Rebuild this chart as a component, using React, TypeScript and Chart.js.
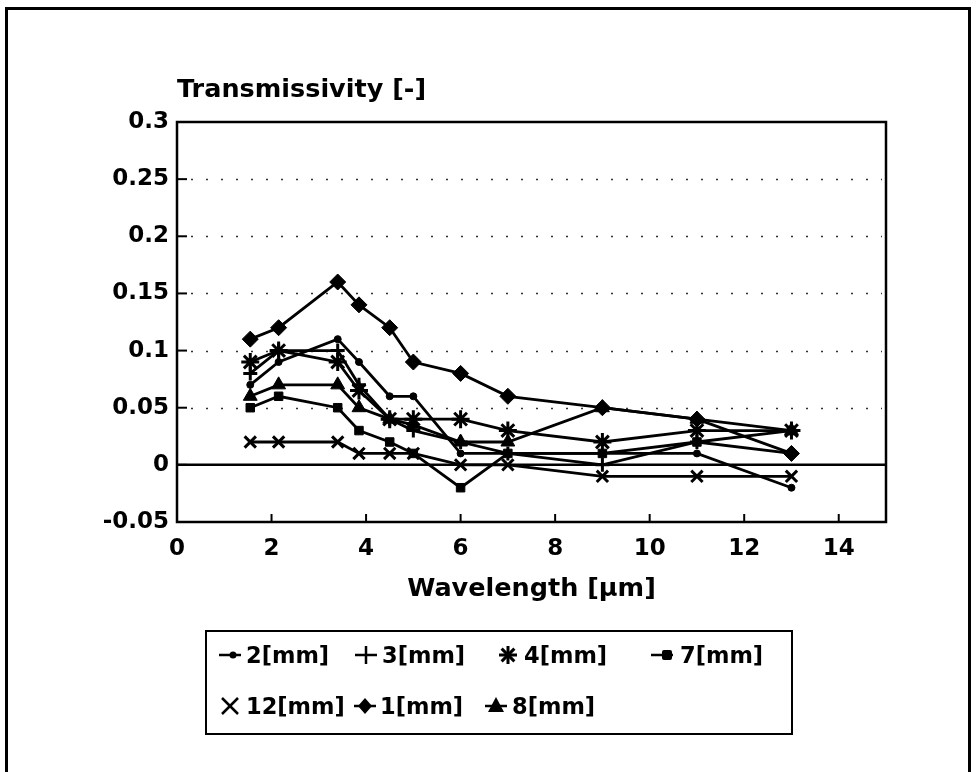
import React, { useEffect, useRef } from "react";
import { Chart, registerables } from "chart.js";

Chart.register(...registerables);

// ---------- data ----------
const wavelengths = [1.55, 2.15, 3.4, 3.85, 4.5, 5, 6, 7, 9, 11, 13];

const seriesNames = ["2[mm]", "3[mm]", "4[mm]", "7[mm]", "12[mm]", "1[mm]", "8[mm]"];
const t2mm = [0.07, 0.09, 0.11, 0.09, 0.06, 0.06, 0.01, 0.01, 0.01, 0.01, -0.02];
const t3mm = [0.08, 0.1, 0.1, 0.07, 0.04, 0.03, 0.02, 0.01, 0.0, 0.02, 0.01];
const t4mm = [0.09, 0.1, 0.09, 0.065, 0.04, 0.04, 0.04, 0.03, 0.02, 0.03, 0.03];
const t7mm = [0.05, 0.06, 0.05, 0.03, 0.02, 0.01, -0.02, 0.01, 0.01, 0.02, 0.03];
const t12mm = [0.02, 0.02, 0.02, 0.01, 0.01, 0.01, 0.0, 0.0, -0.01, -0.01, -0.01];
const t1mm = [0.11, 0.12, 0.16, 0.14, 0.12, 0.09, 0.08, 0.06, 0.05, 0.04, 0.01];
const t8mm = [0.06, 0.07, 0.07, 0.05, 0.04, 0.035, 0.02, 0.02, 0.05, 0.04, 0.03];
const seriesValues = [t2mm, t3mm, t4mm, t7mm, t12mm, t1mm, t8mm];

const yTickValues = [-0.05, 0, 0.05, 0.1, 0.15, 0.2, 0.25, 0.3];
const yTickLabels = ["-0.05", "0", "0.05", "0.1", "0.15", "0.2", "0.25", "0.3"];
const xTickValues = [0, 2, 4, 6, 8, 10, 12, 14];
const xTickLabels = ["0", "2", "4", "6", "8", "10", "12", "14"];

const yTitle = "Transmissivity [-]";
const xTitle = "Wavelength [µm]";

// ---------- styles ----------
const FONT = "'DejaVu Sans', 'Liberation Sans', Arial, sans-serif";
const pointStyles = ["circle", "cross", "star", "rect", "crossRot", "rectRot", "triangle"];
const pointRadii = [3.5, 7, 9, 6, 8, 8, 8];

// legend layout (page coords)
const legendBox = { left: 205, top: 630, width: 588, height: 105 };
const legendPos = [
  { cx: 230, tx: 246, cy: 655 },
  { cx: 366, tx: 382, cy: 655 },
  { cx: 508, tx: 524, cy: 655 },
  { cx: 662, tx: 680, cy: 655 },
  { cx: 230, tx: 246, cy: 706 },
  { cx: 365, tx: 380, cy: 706 },
  { cx: 496, tx: 512, cy: 706 },
];

function LegendMarker({ style }: { style: string }) {
  const c = 12, m = 12;
  const els: any[] = [];
  const sw = 2.5;
  if (style !== "cross" && style !== "star" && style !== "crossRot") {
    els.push(<line key="l" x1={1} y1={m} x2={23} y2={m} stroke="#000" strokeWidth={sw} />);
  }
  if (style === "circle") els.push(<circle key="p" cx={c + 3} cy={m} r={3.5} fill="#000" />);
  if (style === "cross") {
    els.push(<line key="a" x1={1} y1={m} x2={23} y2={m} stroke="#000" strokeWidth={sw} />);
    els.push(<line key="b" x1={c} y1={m - 9} x2={c} y2={m + 9} stroke="#000" strokeWidth={sw} />);
  }
  if (style === "star") {
    for (let i = 0; i < 4; i++) {
      const a = (i * Math.PI) / 4;
      const dx = Math.cos(a) * 9, dy = Math.sin(a) * 9;
      els.push(<line key={"s" + i} x1={c - dx} y1={m - dy} x2={c + dx} y2={m + dy} stroke="#000" strokeWidth={3} />);
    }
  }
  if (style === "rect") els.push(<rect key="p" x={c} y={m - 5} width={10} height={10} rx={2} fill="#000" />);
  if (style === "crossRot") {
    els.push(<line key="a" x1={c - 8} y1={m - 8} x2={c + 8} y2={m + 8} stroke="#000" strokeWidth={sw} />);
    els.push(<line key="b" x1={c - 8} y1={m + 8} x2={c + 8} y2={m - 8} stroke="#000" strokeWidth={sw} />);
  }
  if (style === "rectRot") els.push(<polygon key="p" points={`${c},${m - 8} ${c + 7},${m} ${c},${m + 8} ${c - 7},${m}`} fill="#000" />);
  if (style === "triangle") els.push(<polygon key="p" points={`${c},${m - 9} ${c + 8},${m + 6} ${c - 8},${m + 6}`} fill="#000" />);
  return (
    <svg width={24} height={24} style={{ position: "absolute", left: -c, top: -m, overflow: "visible" }}>
      {els}
    </svg>
  );
}

const framePlugin = {
  id: "frameAndGrid",
  beforeDatasetsDraw(chart: any) {
    const { ctx, chartArea: a, scales } = chart;
    const x = scales.x, y = scales.y;
    ctx.save();
    // dotted horizontal grid
    ctx.strokeStyle = "#333";
    ctx.lineWidth = 1.6;
    ctx.setLineDash([2, 13]);
    yTickValues.forEach((v) => {
      if (v > 0 && v < 0.3) {
        const py = Math.round(y.getPixelForValue(v)) + 0.5;
        ctx.beginPath();
        ctx.moveTo(a.left + 14, py);
        ctx.lineTo(a.right - 4, py);
        ctx.stroke();
      }
    });
    ctx.setLineDash([]);
    ctx.strokeStyle = "#000";
    // zero line
    ctx.lineWidth = 2.5;
    const z = y.getPixelForValue(0);
    ctx.beginPath();
    ctx.moveTo(a.left, z);
    ctx.lineTo(a.right, z);
    ctx.stroke();
    // box
    ctx.lineWidth = 2.5;
    ctx.strokeRect(a.left, a.top, a.right - a.left, a.bottom - a.top);
    // inward tick marks
    ctx.lineWidth = 2;
    yTickValues.forEach((v) => {
      const py = y.getPixelForValue(v);
      ctx.beginPath();
      ctx.moveTo(a.left, py);
      ctx.lineTo(a.left + 10, py);
      ctx.stroke();
    });
    xTickValues.forEach((v) => {
      const px = x.getPixelForValue(v);
      ctx.beginPath();
      ctx.moveTo(px, a.bottom);
      ctx.lineTo(px, a.bottom - 8);
      ctx.stroke();
    });
    ctx.restore();
  },
};

export default function App() {
  const canvasRef = useRef<HTMLCanvasElement | null>(null);

  useEffect(() => {
    const canvas = canvasRef.current;
    if (!canvas) return;
    const datasets = seriesNames.map((name, i) => ({
      label: name,
      data: wavelengths.map((w, j) => ({ x: w, y: seriesValues[i][j] })),
      borderColor: "#000",
      backgroundColor: "#000",
      borderWidth: 2.8,
      pointStyle: pointStyles[i] as any,
      pointRadius: pointRadii[i],
      pointBackgroundColor: "#000",
      pointBorderColor: "#000",
      pointBorderWidth: pointStyles[i] === "star" || pointStyles[i] === "cross" || pointStyles[i] === "crossRot" ? 3 : 1,
      tension: 0,
      fill: false,
    }));
    const chart = new Chart(canvas, {
      type: "line",
      data: { datasets },
      plugins: [framePlugin],
      options: {
        animation: false,
        responsive: false,
        devicePixelRatio: 1,
        layout: { padding: { left: 100, right: 92, top: 75, bottom: 167 } },
        plugins: {
          legend: { display: false },
          tooltip: { enabled: false },
          title: {
            display: true,
            text: yTitle,
            align: "start",
            fullSize: false,
            color: "#000",
            font: { family: FONT, size: 25.5, weight: "bold", lineHeight: 1.2 },
            padding: { top: 0, bottom: 16.4 },
          },
        },
        scales: {
          x: {
            type: "linear",
            min: 0,
            max: 15,
            grid: { display: false, drawTicks: false },
            border: { display: false },
            afterBuildTicks: (scale: any) => {
              scale.ticks = xTickValues.map((v) => ({ value: v }));
            },
            afterFit: (scale: any) => {
              scale.height = 83;
            },
            ticks: {
              color: "#000",
              padding: 13,
              maxRotation: 0,
              autoSkip: false,
              font: { family: FONT, size: 23, weight: "bold", lineHeight: 1.2 },
              callback: (_v: any, i: number) => xTickLabels[i],
            },
            title: {
              display: true,
              text: xTitle,
              color: "#000",
              font: { family: FONT, size: 25.5, weight: "bold", lineHeight: 1.2 },
              padding: { top: 0, bottom: 0 },
            },
          },
          y: {
            type: "linear",
            min: -0.05,
            max: 0.3,
            grid: { display: false, drawTicks: false },
            border: { display: false },
            afterBuildTicks: (scale: any) => {
              scale.ticks = yTickValues.map((v) => ({ value: v }));
            },
            afterFit: (scale: any) => {
              scale.width = 77;
            },
            ticks: {
              color: "#000",
              padding: 8,
              autoSkip: false,
              font: { family: FONT, size: 23, weight: "bold", lineHeight: 1.2 },
              callback: (_v: any, i: number) => yTickLabels[i],
            },
          },
        },
      },
    });
    return () => chart.destroy();
  }, []);

  return (
    <div style={{ position: "absolute", left: 0, top: 0, width: 978, height: 772, background: "#fff", overflow: "hidden" }}>
      <div style={{ position: "absolute", left: 5, top: 7, width: 966, height: 790, border: "3px solid #000", boxSizing: "border-box" }} />
      <canvas ref={canvasRef} width={978} height={772} style={{ position: "absolute", left: 0, top: 0, width: 978, height: 772 }} />
      <div
        style={{
          position: "absolute",
          left: legendBox.left,
          top: legendBox.top,
          width: legendBox.width,
          height: legendBox.height,
          border: "2.5px solid #000",
          boxSizing: "border-box",
        }}
      />
      {seriesNames.map((name, i) => (
        <React.Fragment key={name}>
          <div style={{ position: "absolute", left: legendPos[i].cx, top: legendPos[i].cy }}>
            <LegendMarker style={pointStyles[i]} />
          </div>
          <div
            style={{
              position: "absolute",
              left: legendPos[i].tx,
              top: legendPos[i].cy - 16,
              height: 32,
              lineHeight: "32px",
              fontFamily: FONT,
              fontWeight: "bold",
              fontSize: 22.5,
              color: "#000",
              whiteSpace: "nowrap",
            }}
          >
            {name}
          </div>
        </React.Fragment>
      ))}
    </div>
  );
}
